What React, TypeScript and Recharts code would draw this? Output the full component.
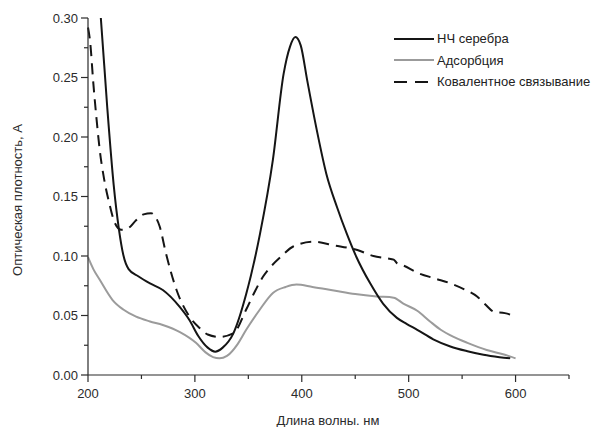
import { LineChart, Line, XAxis, YAxis, Legend } from 'recharts';

// НЧ серебра
const silverNm = [206, 212, 218, 224, 229, 233, 238, 247, 258, 270, 286, 295, 303, 312, 319, 326, 336, 348, 361, 373, 383, 389, 394, 399, 405, 414, 423, 433, 442, 451, 464, 476, 489, 498, 508, 523, 539, 555, 570, 585, 595];
const silverA = [0.36, 0.3, 0.225, 0.16, 0.122, 0.101, 0.089, 0.083, 0.077, 0.0714, 0.057, 0.046, 0.033, 0.023, 0.0196, 0.023, 0.035, 0.068, 0.119, 0.181, 0.253, 0.276, 0.284, 0.277, 0.248, 0.206, 0.169, 0.141, 0.119, 0.0994, 0.077, 0.06, 0.048, 0.043, 0.038, 0.03, 0.024, 0.02, 0.017, 0.015, 0.014];

// Адсорбция
const adsorbNm = [200, 205, 211, 223, 233, 245, 258, 270, 286, 301, 310, 317, 323, 330, 340, 348, 360, 373, 385, 395, 410, 430, 450, 470, 486, 495, 508, 520, 530, 542, 555, 573, 590, 600];
const adsorbA = [0.099, 0.089, 0.08, 0.063, 0.055, 0.049, 0.045, 0.042, 0.036, 0.027, 0.019, 0.015, 0.014, 0.016, 0.026, 0.038, 0.054, 0.069, 0.074, 0.076, 0.074, 0.071, 0.068, 0.066, 0.065, 0.06, 0.054, 0.045, 0.038, 0.032, 0.027, 0.021, 0.017, 0.014];

// Ковалентное связывание
const covalentNm = [200, 202, 205, 208, 211, 215, 220, 225, 231, 237, 245, 252, 259, 263, 267, 273, 283, 295, 305, 312, 323, 336, 348, 356, 364, 372, 380, 392, 411, 430, 452, 467, 480, 486, 489, 495, 508, 525, 539, 552, 564, 572, 580, 590, 600];
const covalentA = [0.292, 0.28, 0.245, 0.215, 0.189, 0.165, 0.144, 0.128, 0.122, 0.123, 0.13, 0.135, 0.136, 0.133, 0.125, 0.102, 0.071, 0.049, 0.039, 0.034, 0.032, 0.035, 0.055, 0.07, 0.083, 0.092, 0.099, 0.108, 0.112, 0.109, 0.105, 0.1, 0.098, 0.097, 0.094, 0.092, 0.086, 0.081, 0.077, 0.072, 0.066, 0.059, 0.053, 0.052, 0.049];

const xTicks = [200, 250, 300, 350, 400, 450, 500, 550, 600, 650];
const yTicks = [0, 0.025, 0.05, 0.075, 0.1, 0.125, 0.15, 0.175, 0.2, 0.225, 0.25, 0.275, 0.3];

const toRows = (nm: number[], a: number[]) => nm.map((x, i) => ({ nm: x, a: a[i] }));

const FONT = '"Liberation Sans", Arial, sans-serif';
const INK = '#2b2b2b';

const legendItems = [
  { name: 'НЧ серебра', color: '#151515', dash: undefined },
  { name: 'Адсорбция', color: '#9b9b9b', dash: undefined },
  { name: 'Ковалентное связывание', color: '#151515', dash: '13 8' },
];

function XTick({ x, y, payload }: any) {
  const v = payload.value;
  const major = v % 100 === 0 && v <= 600;
  return (
    <g>
      <line x1={x} x2={x} y1={y} y2={y + (major ? 7 : 4)} stroke={INK} strokeWidth={1.2} />
      {major && (
        <text x={x} y={y + 23} textAnchor="middle" fontSize={13} fontFamily={FONT} fill={INK}>
          {v}
        </text>
      )}
    </g>
  );
}

function YTick({ x, y, payload }: any) {
  const v = payload.value;
  const major = Math.round(v * 1000) % 50 === 0;
  return (
    <g>
      <line x1={x} x2={x - (major ? 7 : 4)} y1={y} y2={y} stroke={INK} strokeWidth={1.2} />
      {major && (
        <text x={x - 10} y={y + 4.5} textAnchor="end" fontSize={13} fontFamily={FONT} fill={INK}>
          {v.toFixed(2)}
        </text>
      )}
    </g>
  );
}

function LegendBox() {
  return (
    <div style={{ fontFamily: FONT, fontSize: 13, color: '#222' }}>
      {legendItems.map((it) => (
        <div key={it.name} style={{ display: 'flex', alignItems: 'center', height: 21.5 }}>
          <svg width={44} height={10}>
            <line x1={1} x2={41} y1={5} y2={5} stroke={it.color} strokeWidth={2} strokeDasharray={it.dash} />
          </svg>
          <span>{it.name}</span>
        </div>
      ))}
    </div>
  );
}

export default function App() {
  return (
    <div style={{ position: 'absolute', left: 0, top: 0, background: '#fff' }}>
      <LineChart width={610} height={427} margin={{ top: 18, right: 41, left: 0, bottom: 0 }}>
        <XAxis
          dataKey="nm"
          type="number"
          domain={[200, 650]}
          ticks={xTicks}
          interval={0}
          height={52}
          tickSize={0}
          tickMargin={0}
          tickLine={false}
          tick={<XTick />}
          axisLine={{ stroke: INK, strokeWidth: 1.2 }}
          label={{
            content: () => (
              <text x={328} y={425} textAnchor="middle" fontSize={13} fontFamily={FONT} fill={INK}>
                Длина волны. нм
              </text>
            ),
          }}
        />
        <YAxis
          type="number"
          domain={[0, 0.3]}
          allowDataOverflow
          ticks={yTicks}
          interval={0}
          width={88}
          tickSize={0}
          tickMargin={0}
          tickLine={false}
          tick={<YTick />}
          axisLine={{ stroke: INK, strokeWidth: 1.2 }}
          label={{
            content: () => (
              <text transform="translate(22,200) rotate(-90)" textAnchor="middle" fontSize={13} fontFamily={FONT} fill={INK}>
                Оптическая плотность, А
              </text>
            ),
          }}
        />
        <Legend
          layout="vertical"
          align="center"
          verticalAlign="middle"
          content={<LegendBox />}
          wrapperStyle={{ position: 'absolute', top: 28, left: 393, width: 215 }}
        />
        <Line
          data={toRows(adsorbNm, adsorbA)}
          dataKey="a"
          name="Адсорбция"
          type="monotone"
          stroke="#9b9b9b"
          strokeWidth={2}
          dot={false}
          isAnimationActive={false}
        />
        <Line
          data={toRows(covalentNm, covalentA)}
          dataKey="a"
          name="Ковалентное связывание"
          type="monotone"
          stroke="#151515"
          strokeWidth={2}
          strokeDasharray="11 7"
          dot={false}
          isAnimationActive={false}
        />
        <Line
          data={toRows(silverNm, silverA)}
          dataKey="a"
          name="НЧ серебра"
          type="monotone"
          stroke="#151515"
          strokeWidth={2}
          dot={false}
          isAnimationActive={false}
        />
      </LineChart>
    </div>
  );
}
